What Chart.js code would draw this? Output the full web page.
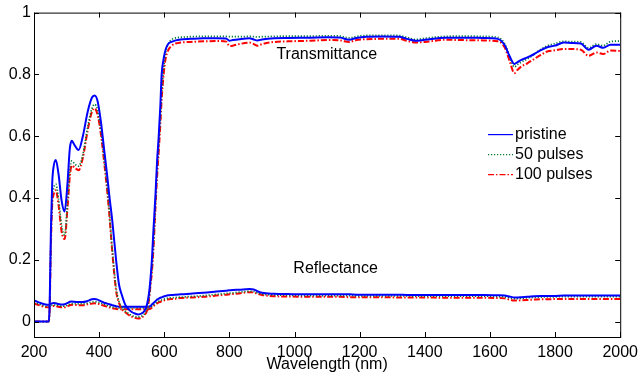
<!DOCTYPE html>
<html>
<head>
<meta charset="utf-8">
<script src="https://cdn.jsdelivr.net/npm/chart.js@4.4.1/dist/chart.umd.min.js"></script>
<style>
  html, body { margin: 0; padding: 0; background: #fff; }
  #wrap { width: 644px; height: 380px; position: relative; }
</style>
</head>
<body>
<div id="wrap"><canvas id="spectra"></canvas></div>
<script>
// wavelength grid (nm), shared by every curve
const wavelength = [200,245,248,252,256,260,267,275,285,294,
  303,310,316,325,337,350,365,378,386,395,
  405,415,425,431,440,452,461,470,480,490,
  500,510,520,530,540,547,553,557,562,567,
  573,578,583,588,592,598,604,613,622,635,
  650,680,720,760,790,800,810,830,862,875,
  886,900,938,980,1050,1100,1140,1168,1190,1220,
  1270,1320,1345,1372,1400,1463,1520,1580,1624,1645,
  1660,1675,1685,1697,1715,1736,1755,1776,1800,1827,
  1850,1879,1903,1927,1948,1970,2000];

// transmittance
const tPristine = [0,0,0.05,0.3,0.45,0.5,0.523,0.48,0.39,0.356,
  0.45,0.56,0.585,0.57,0.555,0.6,0.68,0.725,0.732,0.715,
  0.65,0.56,0.47,0.41,0.33,0.2,0.12,0.085,0.055,0.04,
  0.031,0.026,0.023,0.026,0.036,0.055,0.09,0.13,0.2,0.3,
  0.41,0.52,0.6,0.7,0.8,0.85,0.88,0.9,0.905,0.91,
  0.913,0.915,0.917,0.917,0.916,0.909,0.911,0.914,0.917,0.913,
  0.91,0.913,0.917,0.918,0.919,0.92,0.919,0.912,0.918,0.922,
  0.923,0.922,0.915,0.909,0.912,0.919,0.919,0.918,0.915,0.895,
  0.86,0.834,0.84,0.847,0.855,0.866,0.878,0.888,0.893,0.903,
  0.902,0.9,0.88,0.893,0.886,0.896,0.896];
const t50 = [0,0,0.04,0.27,0.4,0.43,0.445,0.4,0.31,0.28,
  0.39,0.49,0.52,0.51,0.503,0.54,0.63,0.69,0.703,0.685,
  0.62,0.53,0.43,0.36,0.24,0.11,0.065,0.045,0.033,0.026,
  0.02,0.016,0.015,0.017,0.026,0.04,0.075,0.115,0.17,0.25,
  0.38,0.49,0.57,0.66,0.74,0.82,0.87,0.9,0.912,0.918,
  0.92,0.922,0.923,0.923,0.923,0.922,0.922,0.922,0.923,0.922,
  0.921,0.922,0.923,0.924,0.924,0.925,0.924,0.918,0.923,0.926,
  0.926,0.926,0.92,0.913,0.917,0.923,0.924,0.923,0.92,0.9,
  0.86,0.824,0.832,0.84,0.85,0.865,0.88,0.893,0.9,0.907,
  0.906,0.905,0.886,0.898,0.893,0.906,0.908];
const t100 = [0,0,0.04,0.25,0.38,0.41,0.425,0.38,0.29,0.267,
  0.37,0.47,0.505,0.498,0.49,0.53,0.62,0.68,0.69,0.67,
  0.61,0.52,0.42,0.35,0.23,0.1,0.06,0.04,0.03,0.022,
  0.016,0.012,0.01,0.013,0.022,0.035,0.07,0.11,0.16,0.24,
  0.37,0.47,0.55,0.64,0.72,0.8,0.85,0.88,0.892,0.9,
  0.903,0.905,0.907,0.908,0.906,0.892,0.893,0.898,0.903,0.898,
  0.893,0.898,0.905,0.907,0.909,0.911,0.91,0.905,0.911,0.914,
  0.915,0.915,0.909,0.903,0.905,0.912,0.911,0.91,0.907,0.888,
  0.845,0.804,0.815,0.826,0.836,0.85,0.862,0.874,0.878,0.882,
  0.882,0.88,0.86,0.871,0.866,0.877,0.876];

// reflectance
const rPristine = [0.068,0.054,0.056,0.058,0.059,0.06,0.059,0.057,0.055,0.056,
  0.06,0.064,0.065,0.064,0.063,0.063,0.067,0.072,0.073,0.071,
  0.066,0.061,0.058,0.056,0.053,0.05,0.048,0.048,0.048,0.048,
  0.048,0.048,0.048,0.048,0.048,0.048,0.048,0.05,0.055,0.06,
  0.066,0.071,0.074,0.077,0.078,0.081,0.083,0.085,0.086,0.087,
  0.088,0.09,0.093,0.097,0.1,0.101,0.102,0.103,0.105,0.104,
  0.098,0.093,0.09,0.089,0.088,0.088,0.088,0.088,0.087,0.087,
  0.087,0.087,0.086,0.086,0.086,0.086,0.086,0.086,0.085,0.084,
  0.081,0.078,0.078,0.079,0.08,0.082,0.083,0.083,0.083,0.084,
  0.084,0.084,0.084,0.084,0.084,0.084,0.084];
const r50 = [0.062,0.049,0.05,0.052,0.053,0.054,0.053,0.052,0.05,0.05,
  0.054,0.057,0.058,0.058,0.057,0.057,0.06,0.063,0.064,0.063,
  0.06,0.056,0.052,0.05,0.047,0.045,0.044,0.044,0.044,0.044,
  0.044,0.044,0.044,0.044,0.044,0.044,0.044,0.045,0.049,0.054,
  0.059,0.063,0.066,0.068,0.07,0.072,0.074,0.076,0.077,0.078,
  0.079,0.081,0.084,0.088,0.091,0.092,0.093,0.095,0.098,0.097,
  0.093,0.089,0.086,0.085,0.084,0.084,0.084,0.084,0.083,0.083,
  0.083,0.083,0.083,0.082,0.082,0.082,0.082,0.082,0.081,0.08,
  0.077,0.074,0.074,0.075,0.077,0.078,0.079,0.08,0.08,0.081,
  0.081,0.081,0.081,0.081,0.081,0.081,0.081];
const r100 = [0.058,0.046,0.047,0.049,0.05,0.05,0.05,0.048,0.046,0.046,
  0.05,0.053,0.054,0.054,0.053,0.053,0.056,0.058,0.059,0.058,
  0.055,0.051,0.048,0.046,0.043,0.041,0.04,0.04,0.04,0.04,
  0.04,0.04,0.04,0.04,0.04,0.04,0.04,0.041,0.045,0.05,
  0.055,0.059,0.062,0.064,0.066,0.068,0.07,0.072,0.073,0.074,
  0.076,0.078,0.08,0.084,0.087,0.088,0.089,0.091,0.095,0.094,
  0.09,0.086,0.082,0.081,0.08,0.08,0.08,0.079,0.079,0.079,
  0.079,0.078,0.078,0.078,0.078,0.077,0.077,0.077,0.076,0.075,
  0.071,0.068,0.068,0.069,0.07,0.071,0.072,0.072,0.073,0.073,
  0.073,0.073,0.073,0.073,0.073,0.073,0.073];

const seriesNames = ['pristine', '50 pulses', '100 pulses'];
const xTicks = [200, 400, 600, 800, 1000, 1200, 1400, 1600, 1800, 2000];
const yTicks = [0, 0.2, 0.4, 0.6, 0.8, 1];

(function () {
    'use strict';

    var FONT = '"Liberation Sans", Arial, Helvetica, sans-serif';
    var FONT_SIZE = 16;
    var styles = [
        { color: '#0000ff', dash: [], width: 2 },
        { color: '#007a33', dash: [1.2, 1.8], width: 1.7 },
        { color: '#ff0000', dash: [6, 2, 1.5, 2], width: 2 }
    ];

    function toPoints(values) {
        return wavelength.map(function (w, i) { return { x: w, y: values[i] }; });
    }

    function makeDataset(label, values, style) {
        return {
            label: label,
            data: toPoints(values),
            borderColor: style.color,
            borderDash: style.dash,
            borderWidth: style.width,
            pointRadius: 0,
            fill: false,
            cubicInterpolationMode: 'monotone'
        };
    }

    var trans = [tPristine, t50, t100];
    var refl = [rPristine, r50, r100];
    var datasets = [];
    trans.forEach(function (v, i) { datasets.push(makeDataset(seriesNames[i], v, styles[i])); });
    refl.forEach(function (v, i) { datasets.push(makeDataset(seriesNames[i] + ' (R)', v, styles[i])); });

    var framePlugin = {
        id: 'frame',
        afterDraw: function (chart) {
            var ctx = chart.ctx;
            var ca = chart.chartArea;
            var xs = chart.scales.x, ys = chart.scales.y;
            ctx.save();
            ctx.strokeStyle = '#000';
            ctx.lineWidth = 1;
            ctx.setLineDash([]);
            ctx.strokeRect(ca.left + 0.5, ca.top + 0.5, ca.right - ca.left, ca.bottom - ca.top);
            var len = 5;
            ctx.beginPath();
            xTicks.forEach(function (v) {
                var px = Math.round(xs.getPixelForValue(v)) + 0.5;
                ctx.moveTo(px, ca.bottom); ctx.lineTo(px, ca.bottom - len);
                ctx.moveTo(px, ca.top); ctx.lineTo(px, ca.top + len);
            });
            yTicks.forEach(function (v) {
                var py = Math.round(ys.getPixelForValue(v)) + 0.5;
                ctx.moveTo(ca.left, py); ctx.lineTo(ca.left + len, py);
                ctx.moveTo(ca.right, py); ctx.lineTo(ca.right - len, py);
            });
            ctx.stroke();

            // curve group labels
            ctx.fillStyle = '#000';
            ctx.font = FONT_SIZE + 'px ' + FONT;
            ctx.textAlign = 'center';
            ctx.textBaseline = 'middle';
            ctx.fillText('Transmittance', xs.getPixelForValue(1099), ys.getPixelForValue(0.864));
            ctx.fillText('Reflectance', xs.getPixelForValue(1126), ys.getPixelForValue(0.171));

            // legend inside the plot
            ctx.textAlign = 'left';
            var lx = ca.left + 454;
            seriesNames.forEach(function (name, i) {
                var ly = ca.top + 122 + i * 20;
                ctx.strokeStyle = styles[i].color;
                ctx.lineWidth = 1.2;
                ctx.setLineDash(styles[i].dash);
                ctx.beginPath();
                ctx.moveTo(lx, ly); ctx.lineTo(lx + 25, ly);
                ctx.stroke();
                ctx.fillText(name, lx + 27, ly);
            });
            ctx.restore();
        }
    };

    new Chart(document.getElementById('spectra').getContext('2d'), {
        type: 'line',
        data: { datasets: datasets },
        options: {
            responsive: true,
            maintainAspectRatio: false,
            animation: false,
            layout: { padding: { top: 12, right: 17, left: 0, bottom: 0 } },
            plugins: {
                legend: { display: false },
                tooltip: { enabled: false }
            },
            scales: {
                x: {
                    type: 'linear',
                    min: 200,
                    max: 2000,
                    afterBuildTicks: function (scale) {
                        scale.ticks = xTicks.map(function (v) { return { value: v }; });
                    },
                    afterFit: function (scale) { scale.height = 43; },
                    grid: { display: false, drawTicks: false, tickLength: 0 },
                    border: { display: false },
                    ticks: {
                        color: '#000',
                        font: { family: FONT, size: FONT_SIZE },
                        padding: 6,
                        maxRotation: 0,
                        autoSkip: false,
                        callback: function (value) { return String(value); }
                    },
                    title: {
                        display: true,
                        text: 'Wavelength (nm)',
                        color: '#000',
                        font: { family: FONT, size: FONT_SIZE },
                        padding: { top: 0, bottom: 6 }
                    }
                },
                y: {
                    min: -0.05,
                    max: 1,
                    afterBuildTicks: function (scale) {
                        scale.ticks = yTicks.map(function (v) { return { value: v }; });
                    },
                    afterFit: function (scale) { scale.width = 34; },
                    grid: { display: false, drawTicks: false, tickLength: 0 },
                    border: { display: false },
                    ticks: {
                        color: '#000',
                        font: { family: FONT, size: FONT_SIZE },
                        padding: 3,
                        callback: function (value) { return String(value); }
                    }
                }
            }
        },
        plugins: [framePlugin]
    });
})();
</script>
</body>
</html>
